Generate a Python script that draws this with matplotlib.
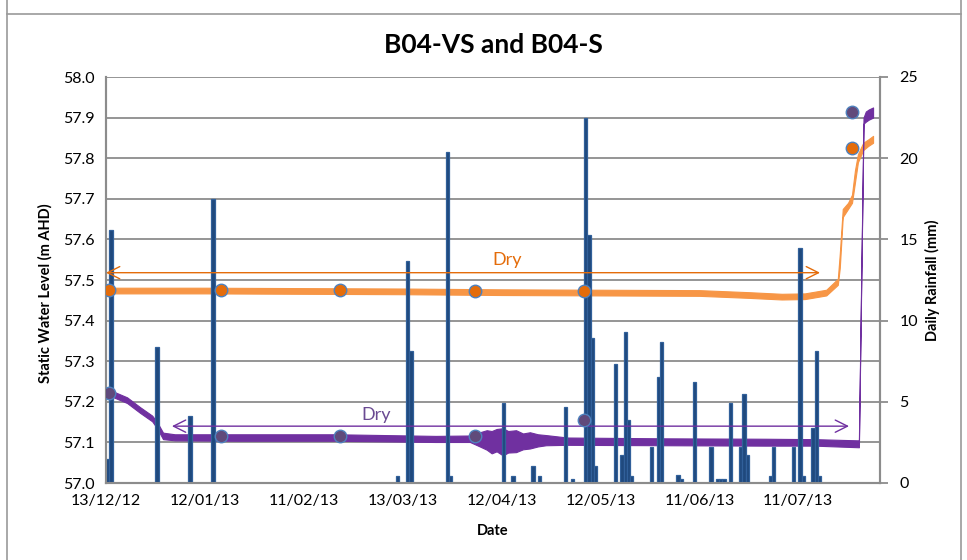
import matplotlib
matplotlib.use("Agg")
import matplotlib.pyplot as plt
import matplotlib.dates as mdates
from matplotlib.lines import Line2D
import numpy as np
import pandas as pd

plt.rcParams["font.family"] = ["Lato", "DejaVu Sans"]

START = pd.Timestamp("2012-12-13")

# daily rainfall (mm), day = days after START
rain_day = [0, 1, 15, 25, 32, 88, 91, 92, 103, 104, 120, 123, 129, 131, 139,
            141, 145, 146, 147, 148, 154, 156, 157, 158, 159, 165, 167, 168, 173, 174,
            178, 183, 185, 186, 187, 189, 192, 193, 194, 201, 202, 208, 210, 211, 214,
            215, 216]
rain_mm = [1.5, 15.6, 8.4, 4.1, 17.5, 0.45, 13.7, 8.1, 20.4, 0.45, 4.9, 0.45, 1.05, 0.45, 4.7,
           0.25, 22.5, 15.3, 8.9, 1.05, 7.3, 1.7, 9.3, 3.9, 0.45, 2.2, 6.5, 8.7, 0.5, 0.25,
           6.2, 2.2, 0.25, 0.25, 0.25, 4.9, 2.2, 5.5, 1.7, 0.45, 2.2, 2.2, 14.5, 0.45, 3.4,
           8.1, 0.45]

# logger trace B04-S (orange): band of the noisy record, low / high edge
s_day = [0.3, 30, 60, 90, 120, 150, 180, 195, 205, 212, 218.5, 222.0, 222.6, 223.5,
         225.1, 226.3, 227.2, 228.1, 229.7, 231.2, 232.7]
s_lo = [57.467, 57.467, 57.466, 57.465, 57.463, 57.462, 57.461, 57.456, 57.452, 57.453,
        57.462, 57.488, 57.53, 57.655, 57.675, 57.69, 57.74, 57.79, 57.82, 57.83, 57.838]
s_hi = [57.481, 57.481, 57.480, 57.479, 57.477, 57.476, 57.475, 57.470, 57.466, 57.467,
        57.476, 57.503, 57.565, 57.675, 57.69, 57.71, 57.77, 57.81, 57.838, 57.846, 57.855]

# logger trace B04-VS (purple)
vs_day = [0.3, 6.4, 10.3, 14.0, 15.5, 17.3, 20.9, 40, 70, 100, 110.4, 113.4, 115.5, 117.0,
          118.5, 120.4, 122.0, 124.4, 126.5, 128.6, 131.0, 133.5, 140, 170, 200, 215,
          228.4, 229.8, 230.5, 231.4, 232.7]
vs_lo = [57.218, 57.197, 57.173, 57.152, 57.135, 57.108, 57.105, 57.104, 57.104, 57.101,
         57.101, 57.09, 57.082, 57.073, 57.078, 57.068, 57.075, 57.076, 57.083, 57.085,
         57.09, 57.093, 57.094, 57.093, 57.092, 57.092, 57.088, 57.885, 57.89, 57.895, 57.9]
vs_hi = [57.232, 57.211, 57.187, 57.166, 57.150, 57.124, 57.12, 57.12, 57.12, 57.116,
         57.117, 57.125, 57.13, 57.128, 57.133, 57.135, 57.128, 57.13, 57.122, 57.125,
         57.12, 57.118, 57.112, 57.11, 57.109, 57.108, 57.105, 57.90, 57.915, 57.92, 57.925]

# manual dips
dip_day = [0.9, 34.9, 71.0, 111.9, 145.0, 226.3]
dip_s = [57.475, 57.475, 57.475, 57.474, 57.474, 57.825]
dip_vs = [57.222, 57.115, 57.115, 57.115, 57.155, 57.915]

tick_dates = ["2012-12-13", "2013-01-12", "2013-02-11", "2013-03-13",
              "2013-04-12", "2013-05-12", "2013-06-11", "2013-07-11"]

BAR = "#1F497D"
ORANGE_LINE = "#F79646"
ORANGE = "#E46C0A"
PURPLE = "#7030A0"
PURPLE_DOT = "#604A7B"
EDGE = "#4F81BD"
GRID = "#8C8C8C"

x0 = mdates.date2num(START)
d2x = lambda d: x0 + np.asarray(d, dtype=float)

fig = plt.figure(figsize=(9.67, 5.6), dpi=100)
ax = fig.add_axes([106 / 967, 1 - 483 / 560, 774 / 967, 406 / 560])
ax2 = ax.twinx()

# logger traces (left axis)
ax.fill_between(d2x(s_day), s_lo, s_hi, color=ORANGE_LINE, lw=0.8, edgecolor=ORANGE_LINE)
ax.fill_between(d2x(vs_day), vs_lo, vs_hi, color=PURPLE, lw=0.8, edgecolor=PURPLE)

ax.set_ylim(57.0, 58.0)
ax.set_yticks(np.arange(57.0, 58.01, 0.1))
ax.yaxis.set_major_formatter(matplotlib.ticker.FormatStrFormatter("%.1f"))
ax.grid(axis="y", color=GRID, lw=1.3)
ax.set_axisbelow(True)
ax.set_xlim(x0, x0 + 234.8)
ax.xaxis.set_major_locator(matplotlib.ticker.FixedLocator(mdates.date2num(pd.to_datetime(tick_dates))))
ax.xaxis.set_major_formatter(mdates.DateFormatter("%d/%m/%y"))
ax.tick_params(axis="both", length=0, labelsize=11.5, pad=8)

# rainfall bars (right axis)
ax2.bar(d2x(rain_day) + 0.5, rain_mm, width=1.0, color=BAR, edgecolor="#31609A", lw=0.9, zorder=2)
ax2.set_ylim(0, 25)
ax2.set_yticks([0, 5, 10, 15, 20, 25])
ax2.tick_params(axis="y", length=6, color=GRID, width=1.3, labelsize=11.5, pad=8)

for a in (ax, ax2):
    a.spines["top"].set_visible(False)
    for s in ("left", "right", "bottom"):
        a.spines[s].set_color(GRID)
        a.spines[s].set_linewidth(1.5)

# dips and dry-period arrows drawn above the bars
tr = ax.transData
ax2.plot(d2x(dip_day), dip_s, "o", ms=9, mfc=ORANGE, mec=EDGE, mew=1, transform=tr, zorder=4)
ax2.plot(d2x(dip_day), dip_vs, "o", ms=9, mfc=PURPLE_DOT, mec=EDGE, mew=1, transform=tr, zorder=4)

arrow = dict(arrowstyle="<->", lw=1.0, mutation_scale=22, shrinkA=0, shrinkB=0)
ax2.annotate("", xy=(d2x(216.6), 57.518), xytext=(d2x(0), 57.518), xycoords=tr, textcoords=tr,
             arrowprops=dict(arrow, color=ORANGE), zorder=3)
ax2.annotate("", xy=(d2x(225.4), 57.140), xytext=(d2x(20), 57.140), xycoords=tr, textcoords=tr,
             arrowprops=dict(arrow, color=PURPLE), zorder=3)
ax2.text(d2x(121.6), 57.55, "Dry", color=ORANGE, fontsize=13, ha="center", va="center", transform=tr)
ax2.text(d2x(81.9), 57.168, "Dry", color="#6A4A92", fontsize=13, ha="center", va="center", transform=tr)

# titles and axis labels
fig.text(493 / 967, 1 - 45 / 560, "B04-VS and B04-S", ha="center", va="center", fontsize=19, fontweight="bold")
fig.text(45 / 967, 1 - 293 / 560, "Static Water Level (m AHD)", rotation=90, ha="center", va="center",
         fontsize=10.5, fontweight="bold")
fig.text(932 / 967, 1 - 280 / 560, "Daily Rainfall (mm)", rotation=90, ha="center", va="center",
         fontsize=10.5, fontweight="bold")
fig.text(493 / 967, 1 - 531 / 560, "Date", ha="center", va="center", fontsize=10.5, fontweight="bold")

# chart frame
fc = "#9A9A9A"
fig.add_artist(Line2D([7 / 967, 7 / 967], [0, 1], color=fc, lw=1.2))
fig.add_artist(Line2D([961 / 967, 961 / 967], [0, 1], color=fc, lw=1.2))
fig.add_artist(Line2D([7 / 967, 961 / 967], [1 - 14 / 560, 1 - 14 / 560], color=fc, lw=1.2))

fig.savefig("out.png", dpi=100)
plt.close(fig)
